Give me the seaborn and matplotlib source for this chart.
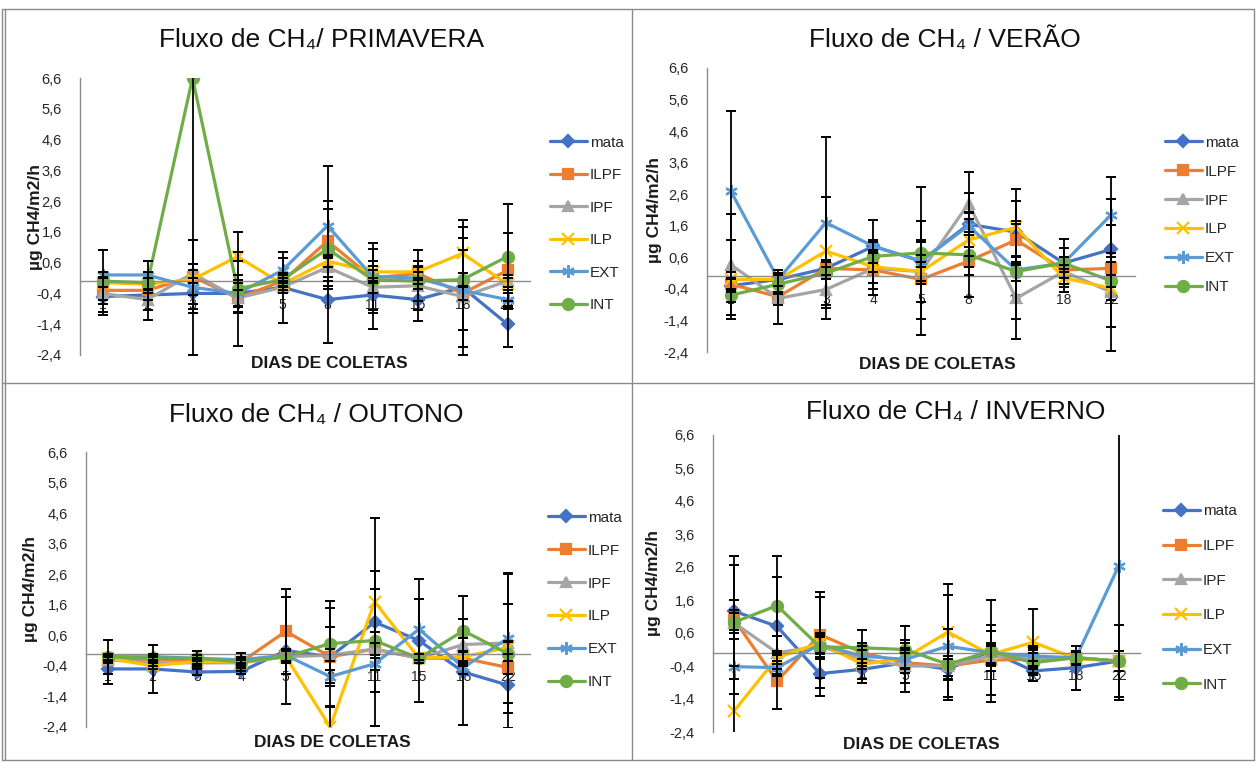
import numpy as np
import pandas as pd
import matplotlib
matplotlib.use('Agg')
import matplotlib.pyplot as plt
import seaborn as sns
from matplotlib.lines import Line2D

# series e dias de coleta
series = ['mata', 'ILPF', 'IPF', 'ILP', 'EXT', 'INT']
dias = ['1', '2', '3', '4', '5', '8', '11', '15', '18', '22']
dias_verao = ['1', '2', '3', '4', '5', '8', '11', '18', '22']

# fluxo medio (ug CH4/m2/h), uma linha por serie
primavera = [[-0.5, -0.45, -0.4, -0.4, -0.2, -0.6, -0.45, -0.6, -0.2, -1.4],
             [-0.3, -0.3, 0.15, -0.55, 0.0, 1.3, 0.1, 0.25, -0.4, 0.35],
             [-0.4, -0.6, 0.25, -0.55, -0.2, 0.45, -0.2, -0.15, -0.5, 0.0],
             [-0.05, -0.1, 0.05, 0.8, -0.1, 0.65, 0.3, 0.3, 0.9, -0.1],
             [0.2, 0.2, -0.2, -0.4, 0.35, 1.8, 0.15, 0.1, -0.3, -0.6],
             [0.0, -0.05, 6.6, -0.25, 0.05, 1.05, 0.05, 0.0, 0.05, 0.8]]
primavera_err = [[0.6, 0.15, 0.5, 0.45, 0.2, 1.4, 1.1, 0.35, 1.95, 0.75],
                 [0.45, 0.95, 1.2, 0.5, 0.2, 1.3, 1.15, 0.2, 0.2, 1.2],
                 [0.2, 0.35, 0.3, 0.25, 1.15, 0.3, 0.2, 1.15, 1.9, 0.2],
                 [0.15, 0.2, 0.5, 0.15, 0.2, 0.2, 0.2, 0.2, 1.1, 0.2],
                 [0.1, 0.1, 0.55, 0.6, 0.4, 1.95, 0.2, 0.2, 1.3, 0.2],
                 [1.0, 0.35, 9.0, 1.85, 0.2, 1.3, 1.0, 0.65, 0.2, 1.7]]

verao = [[-0.3, -0.1, 0.25, 0.95, 0.48, 1.65, 1.4, 0.42, 0.85],
         [-0.25, -0.65, 0.25, 0.2, -0.1, 0.48, 1.15, 0.2, 0.25],
         [0.37, -0.7, -0.42, 0.25, 0.15, 2.3, -0.7, 0.15, -0.5],
         [-0.1, -0.1, 0.8, 0.3, 0.15, 1.15, 1.55, -0.05, -0.38],
         [2.7, -0.1, 1.7, 0.95, 0.48, 1.6, 0.2, 0.42, 1.95],
         [-0.6, -0.25, 0.1, 0.63, 0.74, 0.68, 0.15, 0.42, -0.15]]
verao_err = [[0.2, 0.2, 0.2, 0.82, 2.35, 1.0, 1.0, 0.2, 1.6],
             [0.2, 0.85, 0.2, 0.6, 1.25, 0.45, 0.5, 0.7, 0.2],
             [1.6, 0.2, 0.95, 0.83, 0.3, 1.0, 1.3, 0.2, 1.1],
             [1.25, 0.2, 1.7, 0.5, 0.95, 0.85, 1.2, 0.2, 2.0],
             [2.55, 0.2, 2.7, 0.2, 0.2, 0.2, 1.55, 0.2, 1.2],
             [0.2, 0.3, 0.2, 0.2, 1.0, 1.35, 0.3, 0.75, 0.2]]

outono = [[-0.5, -0.5, -0.6, -0.58, 0.1, -0.1, 1.03, 0.43, -0.6, -1.03],
          [-0.2, -0.2, -0.2, -0.27, 0.73, -0.1, 0.15, -0.15, -0.15, -0.45],
          [-0.2, -0.3, -0.3, -0.3, -0.1, -0.05, 0.15, -0.15, 0.3, 0.35],
          [-0.15, -0.4, -0.25, -0.27, -0.1, -2.4, 1.7, -0.15, -0.1, 0.2],
          [-0.1, -0.1, -0.15, -0.2, -0.05, -0.75, -0.33, 0.8, -0.45, 0.5],
          [-0.1, -0.15, -0.15, -0.27, -0.1, 0.33, 0.43, -0.15, 0.75, 0.0]]
outono_err = [[0.48, 0.8, 0.1, 0.1, 1.75, 1.6, 3.4, 2.0, 1.75, 1.4],
              [0.1, 0.1, 0.28, 0.3, 1.4, 0.97, 0.2, 0.15, 0.2, 0.2],
              [0.1, 0.1, 0.1, 0.1, 0.2, 0.2, 0.2, 0.15, 0.2, 2.3],
              [0.1, 0.1, 0.1, 0.1, 0.2, 0.65, 1.0, 0.15, 0.2, 0.2],
              [0.1, 0.1, 0.1, 0.1, 0.2, 0.2, 0.2, 1.0, 0.2, 2.1],
              [0.55, 0.1, 0.1, 0.1, 0.2, 1.4, 1.7, 0.15, 1.15, 1.63]]

inverno = [[1.26, 0.8, -0.63, -0.5, -0.3, -0.5, 0.05, -0.55, -0.45, -0.25],
           [1.0, -0.86, 0.55, 0.0, -0.3, -0.4, -0.22, -0.2, -0.15, -0.25],
           [0.9, 0.0, 0.2, -0.2, -0.4, -0.4, -0.1, -0.15, -0.15, -0.25],
           [-1.75, -0.15, 0.3, -0.35, -0.15, 0.63, -0.05, 0.32, -0.18, -0.25],
           [-0.42, -0.45, 0.25, -0.1, -0.2, 0.2, 0.0, -0.1, -0.15, 2.63],
           [0.93, 1.43, 0.18, 0.15, 0.1, -0.35, 0.05, -0.3, -0.15, -0.25]]
inverno_err = [[1.67, 1.5, 0.45, 0.3, 0.6, 0.3, 1.55, 0.3, 0.67, 1.1],
               [0.3, 0.85, 1.3, 0.3, 0.3, 0.3, 1.05, 0.3, 0.2, 0.3],
               [0.3, 0.5, 1.5, 0.3, 0.8, 0.3, 0.3, 0.3, 0.2, 0.3],
               [3.35, 0.2, 0.3, 0.55, 0.3, 1.45, 0.3, 1.0, 0.2, 0.3],
               [0.84, 0.2, 0.3, 0.3, 0.3, 1.55, 0.3, 0.3, 0.2, 4.05],
               [1.72, 1.5, 0.3, 0.55, 0.7, 1.07, 0.6, 0.3, 0.2, 0.3]]

cores = ['#4472C4', '#ED7D31', '#A5A5A5', '#FFC000', '#5B9BD5', '#70AD47']
marcadores = ['D', 's', '^', 'x', (6, 2, 0), 'o']
tamanhos = [6, 7, 7, 8, 9, 8]

sns.set_style('white')
plt.rcParams['font.family'] = ['Liberation Sans', 'DejaVu Sans']

W, H = 1256, 762
fig = plt.figure(figsize=(W / 100, H / 100), dpi=100)


def px(x0, y0, x1, y1):
    # retangulo em pixels (y de cima) -> fracao da figura
    return [x0 / W, 1 - y1 / H, (x1 - x0) / W, (y1 - y0) / H]


def painel(rect, titulo, tit_xy, dias_, medias, erros, leg_xy, leg_sp, ylab_x, xlab_xy):
    ax = fig.add_axes(rect)
    pos = np.arange(len(dias_))
    for nome, cor, mk, ms, m, e in zip(series, cores, marcadores, tamanhos, medias, erros):
        df = pd.DataFrame({'pos': pos, 'fluxo': m})
        sns.lineplot(data=df, x='pos', y='fluxo', color=cor, marker=mk, markersize=ms,
                     markeredgecolor=cor, markerfacecolor=cor, markeredgewidth=1.6,
                     linewidth=2.3, label=nome, errorbar=None, ax=ax, zorder=2)
        ax.errorbar(pos, m, yerr=e, fmt='none', ecolor='black', elinewidth=1.3,
                    capsize=3.5, capthick=1.4, zorder=3)

    ax.set_xlim(-0.5, len(dias_) - 0.5)
    ax.set_ylim(-2.4, 6.6)
    yt = np.arange(-2.4, 6.7, 1.0)
    ax.set_yticks(yt)
    ax.set_yticklabels([('%.1f' % v).replace('.', ',') for v in yt], fontsize=10.5, color='#262626')
    ax.set_xticks(pos)
    ax.set_xticklabels(dias_, fontsize=12, color='#262626')
    ax.tick_params(axis='both', length=0)
    ax.tick_params(axis='x', pad=12)
    ax.tick_params(axis='y', pad=13)

    for s in ['top', 'right']:
        ax.spines[s].set_visible(False)
    ax.spines['bottom'].set_position(('data', 0))
    ax.spines['bottom'].set_color('#8c8c8c')
    ax.spines['left'].set_color('#8c8c8c')
    ax.spines['bottom'].set_linewidth(1)
    ax.spines['left'].set_linewidth(1)

    ax.set_ylabel('µg CH4/m2/h', fontsize=12.5, fontweight='bold', color='#1a1a1a')
    ax.yaxis.set_label_coords(ylab_x, 0.5)
    ax.set_xlabel('DIAS DE COLETAS', fontsize=12.5, fontweight='bold', color='#1a1a1a')
    ax.xaxis.set_label_coords(*xlab_xy)

    ax.legend(loc='center left', bbox_to_anchor=(leg_xy[0] / W, 1 - leg_xy[1] / H),
              bbox_transform=fig.transFigure, frameon=False, fontsize=11,
              labelspacing=leg_sp, handlelength=2.4, handletextpad=0.2,
              borderaxespad=0, borderpad=0)

    fig.text(tit_xy[0] / W, 1 - tit_xy[1] / H, titulo, ha='center', va='center',
             fontsize=19, color='#111111')


painel(px(80, 78, 530, 355), 'Fluxo de CH₄/ PRIMAVERA', (322, 40), dias,
       primavera, primavera_err, (550, 224), 1.21, -0.082, (0.553, -0.005))
painel(px(707, 68, 1135, 352), 'Fluxo de CH₄ / VERÃO', (945, 40), dias_verao,
       verao, verao_err, (1165, 215), 0.98, -0.105, (0.538, -0.018))
painel(px(86, 452, 530, 727), 'Fluxo de CH₄ / OUTONO', (316, 415), dias,
       outono, outono_err, (548, 600), 1.24, -0.108, (0.554, -0.03))
painel(px(713, 435, 1140, 732), 'Fluxo de CH₄ / INVERNO', (956, 412), dias,
       inverno, inverno_err, (1163, 598), 1.35, -0.122, (0.489, -0.017))

# moldura da tabela
bordas = [((1.5, 1.5), (9, 760)), ((4.5, 4.5), (9, 760)), ((1254, 1254), (9, 760)),
          ((1.5, 1254), (9, 9)), ((1.5, 1254), (760, 760)),
          ((632, 632), (9, 760)), ((1.5, 1254), (383, 383))]
for xs, ys in bordas:
    fig.add_artist(Line2D([x / W for x in xs], [1 - y / H for y in ys],
                          transform=fig.transFigure, color='#8a8a8a', lw=1))

fig.savefig('out.png', dpi=100, facecolor='white')
